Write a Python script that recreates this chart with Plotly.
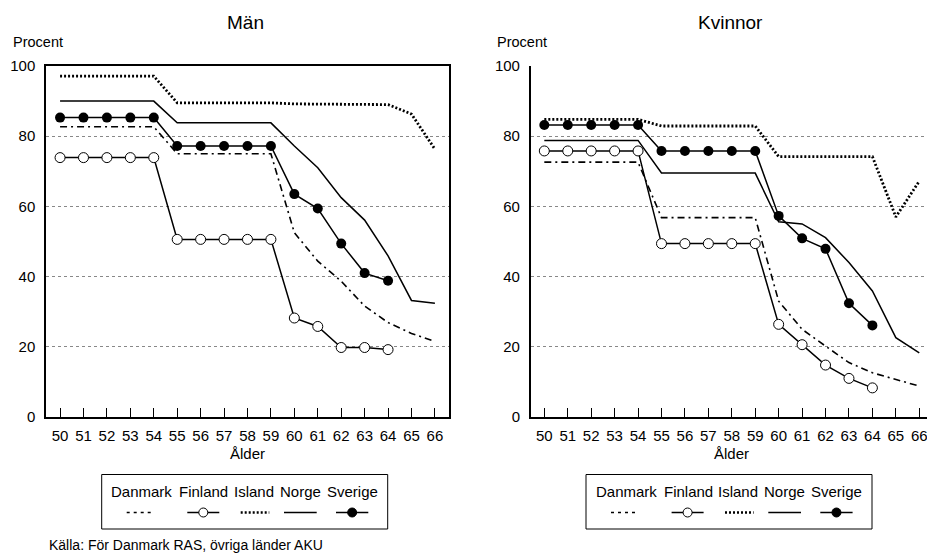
import plotly.graph_objects as go

ages = list(range(50, 67))
countries = ["Danmark", "Finland", "Island", "Norge", "Sverige"]

man_danmark = [82.7, 82.7, 82.7, 82.7, 82.7, 75.0, 75.0, 75.0, 75.0, 75.0, 52.5, 44.4, 38.7, 31.6, 26.9, 23.8, 21.5]
man_finland = [73.9, 73.9, 73.9, 73.9, 73.9, 50.6, 50.6, 50.6, 50.6, 50.6, 28.2, 25.8, 19.8, 19.8, 19.2, None, None]
man_island = [97.1, 97.1, 97.1, 97.1, 97.1, 89.5, 89.5, 89.5, 89.5, 89.5, 89.2, 89.1, 89.1, 89.0, 89.0, 86.3, 76.3]
man_norge = [90.0, 90.0, 90.0, 90.0, 90.0, 83.8, 83.8, 83.8, 83.8, 83.8, 77.2, 71.0, 62.5, 56.1, 45.9, 33.2, 32.4]
man_sverige = [85.3, 85.3, 85.3, 85.3, 85.3, 77.2, 77.2, 77.2, 77.2, 77.2, 63.5, 59.4, 49.4, 41.0, 38.8, None, None]

kv_danmark = [72.6, 72.6, 72.6, 72.6, 72.6, 56.8, 56.8, 56.8, 56.8, 56.8, 33.0, 25.0, 20.2, 15.5, 12.6, 10.7, 8.8]
kv_finland = [75.8, 75.8, 75.8, 75.8, 75.8, 49.4, 49.4, 49.4, 49.4, 49.4, 26.4, 20.6, 14.8, 11.0, 8.3, None, None]
kv_island = [84.8, 84.8, 84.8, 84.8, 84.8, 82.9, 82.9, 82.9, 82.9, 82.9, 74.2, 74.2, 74.2, 74.2, 74.2, 57.0, 67.2]
kv_norge = [78.8, 78.8, 78.8, 78.8, 78.8, 69.5, 69.5, 69.5, 69.5, 69.5, 55.6, 55.0, 51.1, 44.0, 35.9, 22.6, 18.3]
kv_sverige = [83.2, 83.2, 83.2, 83.2, 83.2, 75.8, 75.8, 75.8, 75.8, 75.8, 57.3, 50.9, 47.9, 32.4, 26.1, None, None]

FONT = "Arial, Liberation Sans, sans-serif"
W, H = 927, 554
ML, MT, MB = 46, 66, 137
PW, PH = W - ML, H - MT - MB


def px(x):
    # window pixels -> paper coords
    return (x - ML) / PW


def py(y):
    return (H - MB - y) / PH


styles = {
    "Danmark": dict(line=dict(color="black", width=1.6, dash="7px,4px,2px,4px"), mode="lines"),
    "Finland": dict(line=dict(color="black", width=1.5), mode="lines+markers",
                    marker=dict(symbol="circle", size=10, color="white", line=dict(color="black", width=1))),
    "Island": dict(line=dict(color="black", width=2.8, dash="2px,2px"), mode="lines"),
    "Norge": dict(line=dict(color="black", width=1.5), mode="lines"),
    "Sverige": dict(line=dict(color="black", width=1.5), mode="lines+markers",
                    marker=dict(symbol="circle", size=10, color="black")),
}

fig = go.Figure()
panels = [
    ("x", "y", [man_danmark, man_finland, man_island, man_norge, man_sverige]),
    ("x2", "y2", [kv_danmark, kv_finland, kv_island, kv_norge, kv_sverige]),
]
for xa, ya, series in panels:
    for name, vals in zip(countries, series):
        fig.add_trace(go.Scatter(x=ages, y=vals, name=name, xaxis=xa, yaxis=ya,
                                 showlegend=False, connectgaps=False, cliponaxis=False,
                                 **styles[name]))

xcommon = dict(tickvals=ages, ticks="inside", ticklen=9, tickcolor="black", tickwidth=1,
               showgrid=False, showline=True, linecolor="black", linewidth=1.5,
               tickfont=dict(size=15, color="black"), zeroline=False,
               ticklabeloverflow="allow", ticklabelstandoff=4)
ycommon = dict(range=[0, 100], tickvals=[0, 20, 40, 60, 80, 100], ticks="",
               showgrid=True, gridcolor="#888888", griddash="dot", gridwidth=1,
               showline=True, linecolor="black", linewidth=1.5, zeroline=False,
               tickfont=dict(size=15, color="black"), ticklabelstandoff=6)

fig.update_layout(
    width=W, height=H,
    margin=dict(l=ML, r=0, t=MT, b=MB),
    plot_bgcolor="white", paper_bgcolor="white",
    font=dict(family=FONT, color="black"),
    xaxis=dict(domain=[0, 0.4574], range=[49.4, 66.6], mirror=True, **xcommon),
    yaxis=dict(domain=[0, 1], anchor="x", mirror=True, **ycommon),
    xaxis2=dict(domain=[0.5502, 1], range=[49.42, 66.33], anchor="y2", **xcommon),
    yaxis2=dict(domain=[0, 1], anchor="x2", **ycommon),
)

ann = []
ann.append(dict(text="Män", x=px(245), y=py(22), font=dict(size=19)))
ann.append(dict(text="Kvinnor", x=px(730), y=py(22), font=dict(size=19)))
ann.append(dict(text="Procent", x=px(11), y=py(42), xanchor="left", font=dict(size=14.5)))
ann.append(dict(text="Procent", x=px(495), y=py(42), xanchor="left", font=dict(size=14.5)))
ann.append(dict(text="Ålder", x=px(247.5), y=py(453), font=dict(size=15)))
ann.append(dict(text="Ålder", x=px(731), y=py(453), font=dict(size=15)))
ann.append(dict(text="Källa: För Danmark RAS, övriga länder AKU", x=px(47), y=py(545),
                xanchor="left", font=dict(size=14)))

shapes = []
label_x = [141.7, 203.7, 254, 300.5, 352]
samples = [(126.7, 153.3), (187.3, 219.3), (240.7, 269.3), (284, 316.7), (336, 368.3)]
for off in (0, 484.3):
    shapes.append(dict(type="rect", xref="paper", yref="paper",
                       x0=px(101.7 + off), x1=px(387.7 + off), y0=py(474.5), y1=py(529),
                       line=dict(color="black", width=1), fillcolor="white", layer="above"))
    for name, lx, (s0, s1) in zip(countries, label_x, samples):
        ann.append(dict(text=name, x=px(lx + off), y=py(492), font=dict(size=15)))
        st = styles[name]["line"]
        dash = {"Danmark": "3px,4px", "Island": "2px,2px"}.get(name, "solid")
        shapes.append(dict(type="line", xref="paper", yref="paper",
                           x0=px(s0 + off), x1=px(s1 + off), y0=py(512.5), y1=py(512.5),
                           line=dict(color="black", width=st["width"] if name != "Island" else 2.5,
                                     dash=dash), layer="above"))
        if name in ("Finland", "Sverige"):
            cx = px((s0 + s1) / 2 + off)
            cy = py(512.5)
            fill = "white" if name == "Finland" else "black"
            r = 4.5
            shapes.append(dict(type="circle", xref="paper", yref="paper",
                               xsizemode="pixel", ysizemode="pixel",
                               xanchor=cx, yanchor=cy, x0=-r, x1=r, y0=-r, y1=r,
                               line=dict(color="black", width=1), fillcolor=fill, layer="above"))

for a in ann:
    a.update(xref="paper", yref="paper", showarrow=False)
    a.setdefault("xanchor", "center")
    a["yanchor"] = "middle"
fig.update_layout(annotations=ann, shapes=shapes)

# drop the default page margin so the figure fills the window exactly
fig.write_html("out.html", config={"displayModeBar": False},
               post_script="document.body.style.margin='0';document.body.style.overflow='hidden';")
